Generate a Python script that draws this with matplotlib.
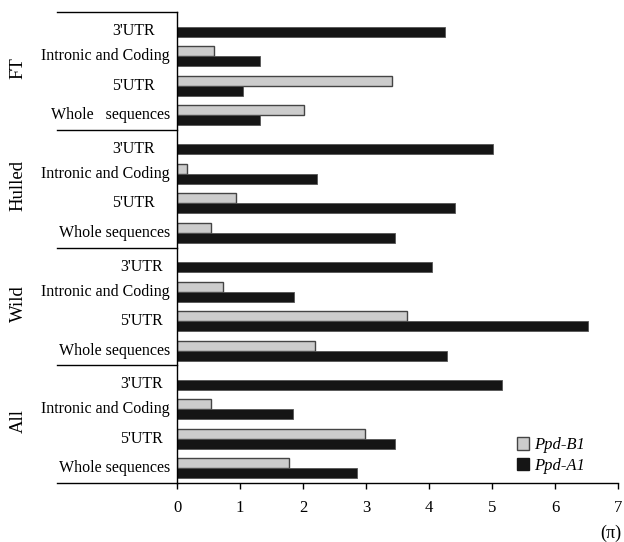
import matplotlib.pyplot as plt
from matplotlib.patches import Patch

plt.rcParams['font.family'] = ['Liberation Serif', 'DejaVu Serif']

groups = ["FT", "Hulled", "Wild", "All"]
regions = ["3'UTR", "Intronic and Coding", "5'UTR", "Whole sequences"]

# values per group, in region order
ppd_b1 = {
    "FT":     [0.0, 0.59, 3.42, 2.01],
    "Hulled": [0.0, 0.16, 0.93, 0.54],
    "Wild":   [0.0, 0.73, 3.65, 2.19],
    "All":    [0.0, 0.54, 2.98, 1.78],
}
ppd_a1 = {
    "FT":     [4.25, 1.32, 1.05, 1.32],
    "Hulled": [5.01, 2.23, 4.41, 3.46],
    "Wild":   [4.05, 1.85, 6.53, 4.28],
    "All":    [5.16, 1.84, 3.46, 2.85],
}

fig = plt.figure(figsize=(6.24, 5.42), dpi=100)
ax = fig.add_axes([177/624, 59/542, 441/624, 471/542])
tr = ax.get_yaxis_transform()

h = 0.34
for g, name in enumerate(groups):
    for c, reg in enumerate(regions):
        y = g*4 + c
        b = ppd_b1[name][c]
        a = ppd_a1[name][c]
        if b > 0:
            ax.barh(y - h/2, b, height=h, color='#cccccc', edgecolor='#444444', linewidth=1)
        ax.barh(y + h/2, a, height=h, color='#151515', edgecolor='#555555', linewidth=0.6)
        lab = "Whole   sequences" if (name == "FT" and c == 3) else reg
        ly = y + 0.15 if c == 0 else y
        # the short UTR labels sit a little further in
        if c in (0, 2):
            lx = -22/441 if g < 2 else -14/441
        else:
            lx = -7/441
        ax.text(lx, ly, lab, ha='right', va='center', fontsize=11.5, transform=tr)

ax.set_xlim(0, 7)
ax.set_ylim(15.5, -0.5)
ax.set_xticks(range(8))
ax.tick_params(axis='x', direction='out', length=4, width=1, labelsize=12, pad=8)
ax.set_yticks([])

ax.spines['top'].set_visible(False)
ax.spines['right'].set_visible(False)
ax.spines['left'].set_linewidth(1)
ax.spines['bottom'].set_linewidth(1)

for yl in [-0.5, 3.5, 7.5, 11.5, 15.5]:
    ax.plot([-0.272, 0], [yl, yl], color='black', lw=1, transform=tr, clip_on=False)

for g, name in enumerate(groups):
    ax.text(-0.36, g*4 + 1.4, name, rotation=90, ha='center', va='center', fontsize=13.5,
            transform=tr)

handles = [Patch(facecolor='#cccccc', edgecolor='#444444', label='Ppd-B1'),
           Patch(facecolor='#151515', edgecolor='#151515', label='Ppd-A1')]
ax.legend(handles=handles, loc='lower left', bbox_to_anchor=(0.77, 0.02), frameon=False,
          prop={'style': 'italic', 'size': 12}, handlelength=0.75, handleheight=0.75,
          handletextpad=0.3, labelspacing=0.25, borderpad=0, borderaxespad=0)

fig.text(611/624, 1 - 533/542, '(π)', ha='center', va='center', fontsize=13)

plt.savefig('out.png', dpi=100)
